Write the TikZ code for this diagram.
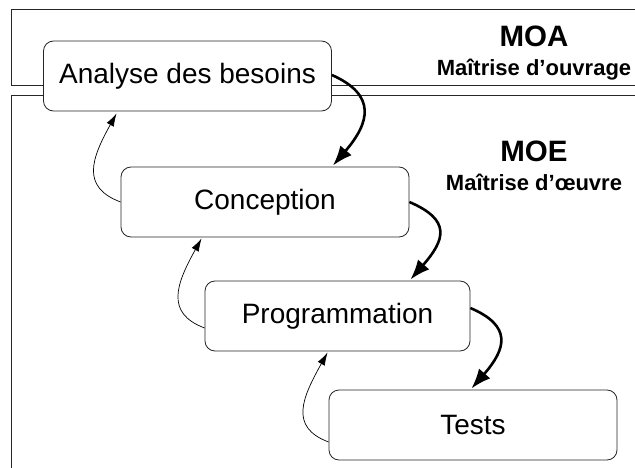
\documentclass[tikz,border=0pt]{standalone}
\usepackage{fontspec}
\setmainfont{Liberation Sans}
\usetikzlibrary{arrows.meta,calc}
\begin{document}
\begin{tikzpicture}[x=1pt,y=-1pt,
  stage/.style={draw=black!85, line width=0.8pt, rounded corners=10pt, fill=white,
    minimum width=288pt, minimum height=70pt, inner sep=0pt,
    font=\fontsize{28}{32}\selectfont},
  fwd/.style={line width=2.6pt, -{Latex[length=20pt,width=15pt]}},
  back/.style={line width=0.7pt, -{Latex[length=13pt,width=8pt]}},
  frame/.style={line width=0.9pt, draw=black!85},
  big/.style={font=\fontsize{29.5}{32}\selectfont\bfseries, anchor=base},
  sub/.style={font=\fontsize{22}{24}\selectfont\bfseries, anchor=base}]
\useasboundingbox (0,0) rectangle (635,468);
\fill[white] (0,0) rectangle (635,468);
% zones
\draw[frame] (635,9) -- (11.5,9) -- (11.5,85) -- (635,85);
\draw[frame] (635,95.5) -- (11.5,95.5) -- (11.5,468);
% zone labels
\node[big] (moa) at (534,47) {MOA};
\node[sub] (moasub) at (534,76) {Maîtrise d’ouvrage};
\node[big] (moe) at (534,162) {MOE};
\node[sub] (moesub) at (534,190) {Maîtrise d’œuvre};
% stages
\node[stage] (ana) at (187.5,76) {Analyse des besoins};
\node[stage] (con) at (265,202) {Conception};
\node[stage, minimum width=265pt] (prog) at (337.5,316) {Programmation};
\node[stage] (tests) at (473,425) {Tests};
% forward arrows
\draw[fwd] ($(ana.east)+(0,-1)$) .. controls +(45,20) and +(37,-43) .. ($(con.north -| ana.east)+(1,-1)$);
\draw[fwd] (con.east) .. controls +(42,18) and +(35,-40) .. ($(prog.north -| con.east)+(1,-1)$);
\draw[fwd] ($(prog.east)+(0,-8)$) .. controls +(42,18) and +(35,-40) .. ($(tests.north -| prog.east)+(1,-1)$);
% backward arrows
\draw[back] (con.west) .. controls +(-40,-15) and +(-25,45) .. ($(ana.south -| con.west)+(-4,2)$);
\draw[back] ($(prog.west)+(0,12)$) .. controls +(-40,-15) and +(-25,45) .. ($(con.south -| prog.west)+(-3,1)$);
\draw[back] ($(tests.west)+(0,17)$) .. controls +(-40,-15) and +(-25,45) .. ($(prog.south -| tests.west)+(-1,1)$);
\end{tikzpicture}
\end{document}
